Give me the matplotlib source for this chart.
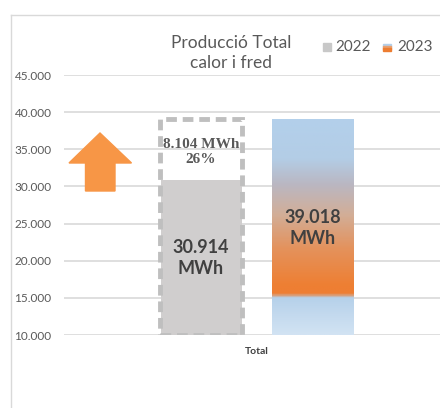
import numpy as np
import matplotlib.pyplot as plt
from matplotlib.colors import LinearSegmentedColormap
from matplotlib.patches import Polygon, Rectangle
from matplotlib.lines import Line2D

years = ['2022', '2023']
values = [30914, 39018]
category = 'Total'
yticks = [10000, 15000, 20000, 25000, 30000, 35000, 40000, 45000]

diff = values[1] - values[0]
pct = round(diff / values[0] * 100)

def fmt(v):  # 30914 -> 30.914
    return f'{v:,}'.replace(',', '.')

W, H = 440, 408
fig = plt.figure(figsize=(W / 100, H / 100), dpi=100)
plt.rcParams['font.family'] = ['Lato', 'DejaVu Sans']

# plot area, runs a bit past the right edge like the cropped original
ax = fig.add_axes([64 / W, 1 - 335 / H, (450 - 64) / W, (335 - 75) / H])
ax.set_ylim(10000, 45000)
ax.set_xlim(-0.5, 0.5)
ax.set_yticks(yticks)
ax.set_yticklabels([fmt(t) for t in yticks], fontsize=8.5, color='#595959')
ax.tick_params(axis='y', length=0, pad=9)
ax.set_xticks([])
for s in ax.spines.values():
    s.set_visible(False)
ax.grid(True, axis='y', color='#D9D9D9', linewidth=1.2)
ax.set_axisbelow(True)

off = 0.145
bw = 0.21
x22, x23 = -off, off

# 2022: gray bar + dashed outline up to the 2023 level
ax.bar(x22, values[0] - 10000, bottom=10000, width=bw, color='#D0CECE', zorder=2)
ax.bar(x22, values[1] - 10000, bottom=10000, width=bw + 0.004, facecolor='none',
       edgecolor='#BFBFBF', linestyle=(0, (2.2, 1.2)), linewidth=3.5, zorder=3)

# 2023: gradient bar
stops = [(0.0, '#D2E3F3'), (0.17, '#B6D1EA'), (0.19, '#EE7E33'), (0.23, '#EE7F33'),
         (0.40, '#E4925C'), (0.56, '#D2AE98'), (0.70, '#BAB7C2'), (0.82, '#B3CDE6'),
         (1.0, '#B3D0EB')]
cmap = LinearSegmentedColormap.from_list('grad', stops)
grad = np.linspace(0, 1, 300).reshape(-1, 1)
ax.imshow(grad, cmap=cmap, origin='lower', aspect='auto', zorder=2,
          extent=(x23 - bw / 2, x23 + bw / 2, 10000, values[1]))
ax.set_xlim(-0.5, 0.5)
ax.set_ylim(10000, 45000)

# labels
ax.text(x22, 20400, f'{fmt(values[0])}\nMWh', ha='center', va='center', fontsize=13,
        fontweight='bold', color='#404040', linespacing=1.3, zorder=4)
ax.text(x23, 24350, f'{fmt(values[1])}\nMWh', ha='center', va='center', fontsize=13,
        fontweight='bold', color='#404040', linespacing=1.3, zorder=4)
ax.text(x22, 34650, f'{fmt(diff)} MWh\n{pct}%', ha='center', va='center', fontsize=11,
        fontweight='bold', color='#595959', family='Liberation Serif',
        linespacing=1.2, zorder=4)
ax.text(0.5, -0.065, category, transform=ax.transAxes, ha='center', va='center',
        fontsize=7.5, fontweight='bold', color='#404040')

# title and legend
fig.text(231 / W, 1 - 53 / H, 'Producció Total\ncalor i fred', ha='center', va='center',
         fontsize=12.5, color='#595959', linespacing=1.3)
fig.patches.append(Rectangle((323 / W, 1 - 51 / H), 8 / W, 8 / H,
                             transform=fig.transFigure, color='#C8C8C8'))
fig.text(335 / W, 1 - 47 / H, years[0], ha='left', va='center', fontsize=11, color='#595959')
for i, c in enumerate(['#B4D0EA', '#E8A070', '#ED7D31']):
    fig.patches.append(Rectangle((383 / W, 1 - (45 + 2 * i + 2) / H), 8 / W, 2.7 / H,
                                 transform=fig.transFigure, color=c))
fig.text(397 / W, 1 - 47 / H, years[1], ha='left', va='center', fontsize=11, color='#595959')

# orange up arrow
arrow = [(100, 133), (131.5, 163), (115, 163), (115, 191), (85.5, 191), (85.5, 163), (69, 163)]
fig.patches.append(Polygon([(x / W, 1 - y / H) for x, y in arrow], closed=True,
                           transform=fig.transFigure, color='#F79646'))

# chart frame
fig.add_artist(Line2D([11 / W, 11 / W], [0, 1 - 15 / H], color='#D9D9D9', linewidth=1))
fig.add_artist(Line2D([11 / W, 1], [1 - 15 / H, 1 - 15 / H], color='#D9D9D9', linewidth=1))

fig.savefig('out.png', dpi=100)
